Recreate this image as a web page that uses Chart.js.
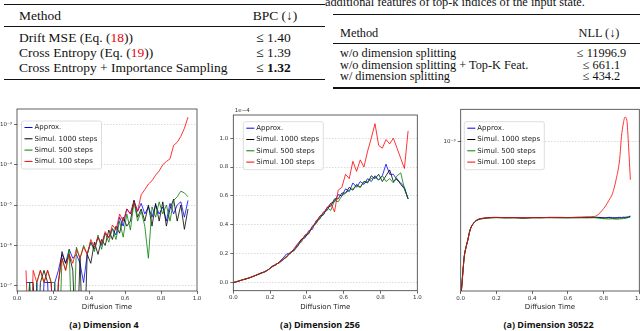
<!DOCTYPE html>
<html>
<head>
<meta charset="utf-8">
<script src="https://cdn.jsdelivr.net/npm/chart.js@4.4.1/dist/chart.umd.min.js"></script>
<style>
  body { margin: 0; background: #fff; }
  #page { position: relative; width: 640px; height: 331px; overflow: hidden; background: #fff; }
  .rule { position: absolute; background: #111; }
  .tx { position: absolute; font-family: 'Liberation Serif', serif; white-space: nowrap; color: #111; line-height: 14px; }
  .t1 { font-size: 13.5px; }
  .t2 { font-size: 12.3px; }
  .c { text-align: center; width: 90px; }
  .ref { color: #e8000b; }
  .plot { position: absolute; overflow: hidden; }
  .cap { position: absolute; width: 200px; text-align: center; font: bold 9px 'Open Sans', sans-serif; line-height: 12px; color: #111; }
</style>
</head>
<body>
<div id="page">
  <!-- left table -->
  <div class="rule" style="left:4px;top:4px;width:321px;height:1.3px"></div>
  <div class="tx t1" style="left:19px;top:9px">Method</div>
  <div class="tx t1 c" style="left:230px;top:9px">BPC (↓)</div>
  <div class="rule" style="left:4px;top:25.7px;width:321px;height:0.7px"></div>
  <div class="tx t1" style="left:19px;top:30.7px">Drift MSE (Eq. (<span class="ref">18</span>))</div>
  <div class="tx t1" style="left:19px;top:45.7px">Cross Entropy (Eq. (<span class="ref">19</span>))</div>
  <div class="tx t1" style="left:19px;top:61.3px">Cross Entropy + Importance Sampling</div>
  <div class="tx t1 c" style="left:228.5px;top:30.7px">≤ 1.40</div>
  <div class="tx t1 c" style="left:228.5px;top:45.7px">≤ 1.39</div>
  <div class="tx t1 c" style="left:228.5px;top:61.3px">≤ <b>1.32</b></div>
  <div class="rule" style="left:4px;top:78.5px;width:321px;height:1.3px"></div>

  <!-- right table -->
  <div class="tx t2" style="left:325px;top:-5.5px">additional features of top-k indices of the input state.</div>
  <div class="rule" style="left:333px;top:13.5px;width:310px;height:1.3px"></div>
  <div class="tx t2" style="left:340px;top:26.3px">Method</div>
  <div class="tx t2 c" style="left:554px;top:26.3px">NLL (↓)</div>
  <div class="rule" style="left:333px;top:42.7px;width:310px;height:0.7px"></div>
  <div class="tx t2" style="left:340px;top:46.3px">w/o dimension splitting</div>
  <div class="tx t2" style="left:340px;top:58px">w/o dimension splitting + Top-K Feat.</div>
  <div class="tx t2" style="left:340px;top:69.3px">w/ dimension splitting</div>
  <div class="tx t2 c" style="left:556.5px;top:46.3px">≤ 11996.9</div>
  <div class="tx t2 c" style="left:556.5px;top:58px">≤ 661.1</div>
  <div class="tx t2 c" style="left:556.5px;top:69.3px">≤ 434.2</div>
  <div class="rule" style="left:333px;top:87.3px;width:310px;height:1.3px"></div>

  <!-- plots -->
  <div class="plot" style="left:0;top:100px;width:205px;height:215px"><canvas id="dim4" width="205" height="215"></canvas></div>
  <div class="plot" style="left:210px;top:100px;width:220px;height:215px"><canvas id="dim256" width="220" height="215"></canvas></div>
  <div class="plot" style="left:430px;top:100px;width:210px;height:215px"><canvas id="dim30522" width="230" height="215"></canvas></div>

  <div class="cap" style="left:4px;top:319px">(a) Dimension 4</div>
  <div class="cap" style="left:220px;top:319px">(a) Dimension 256</div>
  <div class="cap" style="left:448.5px;top:319px">(a) Dimension 30522</div>
</div>

<script>
// === SHARED ===
const seriesLabels = ['Approx.', 'Simul. 1000 steps', 'Simul. 500 steps', 'Simul. 100 steps'];
const seriesColors = ['#0000ff', '#000000', '#008000', '#ff0000'];
const xTickValues = [0, 0.2, 0.4, 0.6, 0.8, 1.0];

// === DIMENSION 4 (log scale, 0 = below the axis) ===
const dim4Time = [0.05,0.07,0.09,0.11,0.13,0.15,0.17,0.19,0.21,0.23,0.25,0.27,0.29,0.31,0.33,0.35,0.37,0.39,0.41,0.43,0.45,0.47,0.49,0.51,0.53,0.55,0.57,0.59,0.61,0.63,0.65,0.67,0.69,0.71,0.73,0.75,0.77,0.79,0.81,0.83,0.85,0.87,0.89,0.91,0.93,0.95];
const dim4Approx = [1.2e-7,1.2e-7,0,1.2e-7,0,1.2e-7,1.2e-7,0,1.2e-7,2.4e-7, 6e-7,3.6e-7,8e-7,4.8e-7,6e-7,3.6e-7,1.2e-7,6e-7,1.2e-6,8e-7, 1.6e-6,1e-6,2e-6,1.6e-6,2.6e-6,1.8e-6,5e-6,3e-6,8e-6,6e-6, 1.3e-5,7e-6,1.1e-5,6e-6,9e-6,5e-6,1e-5,6e-6,9e-6,4e-6, 1.1e-5,6e-6,1e-5,1.2e-5,5e-6,1.3e-5];
const dim4Sim1000 = [0,1.2e-7,1.2e-7,0,1.2e-7,2.4e-7,1.2e-7,1.2e-7,0,1.2e-7, 7e-7,3.6e-7,6e-7,2.4e-7,0,4.8e-7,0,6e-7,3.6e-7,1.2e-6, 6e-7,1.4e-6,1e-6,2.4e-6,1.4e-6,3e-6,2e-6,5e-6,3e-6,4e-6, 1.3e-5,5e-6,8e-6,4e-6,1e-5,3e-6,1.1e-5,4e-6,1.2e-5,3e-6, 8e-6,1.4e-5,4e-6,1e-5,2.5e-6,8e-6];
const dim4Sim500 = [0,1.2e-7,0,1.2e-7,2.4e-7,1.2e-7,2.4e-7,1.2e-7,1.2e-7,0, 4.8e-7,2.4e-7,8e-7,0,9e-7,4.8e-7,1e-6,6e-7,1.2e-6,7e-7, 1.8e-6,8e-7,2e-6,1.2e-6,2.6e-6,1.4e-6,4e-6,1.6e-6,6e-6,2.4e-6, 1.2e-5,4e-6,7e-6,3e-6,4.8e-7,9e-6,5e-6,1.2e-5,6e-6,1e-5, 4e-6,1.3e-5,1.6e-5,2.2e-5,2e-5,1.6e-5];
const dim4Sim100 = [2.4e-7,0,2.4e-7,1.2e-7,2.4e-7,1.2e-7,2.4e-7,1.2e-7,0,1.2e-7, 4.8e-7,2.4e-7,6e-7,3.6e-7,8e-7,4.8e-7,9e-7,6e-7,1.4e-6,9e-7, 1.6e-6,1.1e-6,2.2e-6,1.5e-6,3.2e-6,2.4e-6,6e-6,4e-6,8e-6,6e-6, 1.2e-5,7e-6,1.8e-5,2.4e-5,3.3e-5,4e-5,5.5e-5,7e-5,1e-4,1.2e-4, 1.4e-4,3e-4,3.6e-4,5e-4,8e-4,1.5e-3];
const dim4YTicks = [1e-7, 1e-6, 1e-5, 1e-4, 1e-3];

// === DIMENSION 256 (values in units of 1e-4) ===
const dim256Time = [0,0.01,0.03,0.05,0.07,0.09,0.11,0.13,0.15,0.17,0.19,0.21,0.23,0.25,0.27,0.29,0.31,0.33,0.35,0.37,0.39,0.41,0.43,0.45,0.47,0.49,0.51,0.53,0.55,0.57,0.59,0.61,0.63,0.65,0.67,0.69,0.71,0.73,0.75,0.77,0.79,0.81,0.83,0.85,0.87,0.89,0.91,0.93,0.95];
const dim256Approx = [0,.005,.012,.021,.026,.036,.044,.057,.064,.078, .088,.115,.12,.145,.17,.2,.2,.235,.27,.3, .31,.36,.37,.43,.44,.49,.5,.55,.56,.61, .6,.65,.63,.69,.66,.7,.68,.72,.7,.74, .71,.74,.82,.75,.75,.71,.69,.66,.58];
const dim256Sim1000 = [0,.005,.011,.02,.028,.034,.046,.054,.067,.074, .091,.108,.128,.138,.158,.185,.21,.225,.25,.3, .32,.34,.39,.41,.46,.47,.52,.53,.58,.58, .62,.62,.66,.64,.68,.66,.7,.69,.74,.72, .75,.7,.74,.78,.7,.72,.68,.65,.58];
const dim256Sim500 = [0,.005,.013,.019,.027,.036,.045,.055,.067,.073, .09,.112,.123,.142,.16,.175,.21,.22,.265,.28, .33,.34,.39,.41,.45,.47,.52,.5,.57,.56, .6,.62,.64,.65,.67,.66,.7,.7,.72,.73, .71,.74,.7,.72,.69,.74,.76,.65,.58];
const dim256Sim100 = [0,.005,.012,.02,.027,.035,.045,.056,.067,.076, .09,.11,.127,.138,.162,.18,.208,.228,.262,.29, .33,.345,.39,.42,.46,.48,.52,.55,.49,.64, .66,.75,.72,.84,.77,.85,.8,.91,1.0,1.1, .95,.93,.99,.96,1.0,.93,.86,.79,1.05];
const dim256YTicks = [0, 0.2, 0.4, 0.6, 0.8, 1.0];

// === DIMENSION 30522 (log scale) ===
const dim30522Time = [0,0.01,0.02,0.03,0.04,0.05,0.06,0.07,0.08,0.1,0.12, 0.15,0.2,0.25,0.3,0.35,0.4,0.45,0.5,0.55,0.6,0.65,0.7,0.75, 0.77,0.79,0.81,0.83,0.85,0.87,0.89,0.9,0.91,0.92,0.93,0.94,0.95];
const dim30522Approx = [1.9e-4,2.4e-4,3.0e-4,3.3e-4,3.57e-4,3.89e-4,4.11e-4,4.23e-4,4.33e-4,4.43e-4,4.47e-4, 4.50e-4,4.52e-4,4.50e-4,4.51e-4,4.49e-4,4.51e-4,4.50e-4,4.52e-4,4.51e-4,4.50e-4,4.52e-4,4.51e-4,4.52e-4, 4.52e-4,4.51e-4,4.50e-4,4.52e-4,4.51e-4,4.50e-4,4.52e-4,4.51e-4,4.53e-4,4.52e-4,4.54e-4,4.55e-4,4.58e-4];
const dim30522Sim1000 = [1.9e-4,2.45e-4,3.02e-4,3.32e-4,3.58e-4,3.9e-4,4.1e-4,4.22e-4,4.32e-4,4.42e-4,4.46e-4, 4.49e-4,4.51e-4,4.50e-4,4.50e-4,4.48e-4,4.50e-4,4.51e-4,4.50e-4,4.50e-4,4.51e-4,4.50e-4,4.52e-4,4.51e-4, 4.51e-4,4.49e-4,4.48e-4,4.50e-4,4.47e-4,4.48e-4,4.49e-4,4.48e-4,4.50e-4,4.49e-4,4.51e-4,4.52e-4,4.56e-4];
const dim30522Sim500 = [1.9e-4,2.42e-4,2.98e-4,3.3e-4,3.55e-4,3.88e-4,4.1e-4,4.22e-4,4.31e-4,4.41e-4,4.45e-4, 4.48e-4,4.50e-4,4.49e-4,4.50e-4,4.49e-4,4.50e-4,4.49e-4,4.51e-4,4.50e-4,4.49e-4,4.50e-4,4.49e-4,4.50e-4, 4.48e-4,4.46e-4,4.45e-4,4.44e-4,4.45e-4,4.43e-4,4.44e-4,4.45e-4,4.46e-4,4.47e-4,4.49e-4,4.51e-4,4.54e-4];
const dim30522Sim100 = [1.9e-4,2.4e-4,3.0e-4,3.31e-4,3.57e-4,3.89e-4,4.11e-4,4.23e-4,4.33e-4,4.43e-4,4.47e-4, 4.50e-4,4.51e-4,4.51e-4,4.50e-4,4.51e-4,4.50e-4,4.51e-4,4.51e-4,4.52e-4,4.51e-4,4.52e-4,4.54e-4,4.56e-4, 4.65e-4,4.84e-4,5.07e-4,5.4e-4,5.8e-4,6.7e-4,8.3e-4,1.05e-3,1.2e-3,1.29e-3,1.25e-3,9.5e-4,6.7e-4];
const dim30522YTicks = [1e-3];

// === HELPERS ===
const SUP = { '-': '⁻', '0': '⁰', '1': '¹', '2': '²', '3': '³', '4': '⁴', '5': '⁵', '6': '⁶', '7': '⁷', '8': '⁸', '9': '⁹' };
const powerLabel = v => '10' + String(Math.round(Math.log10(v))).split('').map(c => SUP[c]).join('');

Chart.defaults.font.family = "'DejaVu Sans', sans-serif";
Chart.defaults.color = '#333';

// axes box on all four sides, like matplotlib
const framePlugin = {
  id: 'frame',
  afterDatasetsDraw(chart) {
    const { ctx, chartArea: a } = chart;
    ctx.save();
    ctx.strokeStyle = '#3a3a3a';
    ctx.lineWidth = 0.8;
    ctx.strokeRect(a.left, a.top, a.right - a.left, a.bottom - a.top);
    ctx.restore();
  }
};

// legend box inside the plot area + optional offset text (1e-4)
const boxLegend = {
  id: 'boxLegend',
  afterDatasetsDraw(chart, args, opts) {
    const { ctx, chartArea: a } = chart;
    const x = a.left + opts.dx, y = a.top + opts.dy;
    ctx.save();
    ctx.beginPath();
    ctx.roundRect(x, y, 80, 48, 2);
    ctx.fillStyle = 'rgba(255,255,255,0.85)';
    ctx.fill();
    ctx.strokeStyle = '#d4d4d4';
    ctx.lineWidth = 0.8;
    ctx.stroke();
    ctx.font = "7px 'DejaVu Sans'";
    ctx.textBaseline = 'middle';
    chart.data.datasets.forEach((ds, i) => {
      const cy = y + 6.5 + i * 11.3;
      ctx.strokeStyle = ds.borderColor;
      ctx.lineWidth = 1;
      ctx.beginPath();
      ctx.moveTo(x + 3, cy);
      ctx.lineTo(x + 11, cy);
      ctx.stroke();
      ctx.fillStyle = '#222';
      ctx.fillText(ds.label, x + 13, cy);
    });
    if (opts.offsetText) {
      ctx.font = "5.5px 'DejaVu Sans'";
      ctx.textBaseline = 'bottom';
      ctx.fillStyle = '#333';
      ctx.fillText(opts.offsetText, a.left + 1.5, a.top - 1.5);
    }
    ctx.restore();
  }
};

function drawPlot(id, cfg) {
  const datasets = seriesLabels.map((label, i) => ({
    label,
    data: cfg.time.map((t, j) => {
      const v = cfg.series[i][j];
      return { x: t, y: (cfg.floor && v <= 0) ? cfg.floor : v };
    }),
    borderColor: seriesColors[i],
    borderWidth: 0.8,
    pointRadius: 0,
    tension: 0,
    cubicInterpolationMode: cfg.smooth ? 'monotone' : 'default',
    order: seriesLabels.length - i
  }));

  return new Chart(document.getElementById(id), {
    type: 'line',
    data: { datasets },
    plugins: [framePlugin, boxLegend],
    options: {
      responsive: false, animation: false, devicePixelRatio: 1, events: [],
      layout: { padding: { left: 0, top: cfg.padTop, right: cfg.padRight, bottom: 0 } },
      plugins: {
        legend: { display: false },
        tooltip: { enabled: false },
        boxLegend: { dx: cfg.legend[0], dy: cfg.legend[1], offsetText: cfg.offsetText }
      },
      scales: {
        x: {
          type: 'linear', min: 0, max: 1,
          afterBuildTicks: s => { s.ticks = xTickValues.map(v => ({ value: v })); },
          afterFit: s => { s.height = cfg.xAxisHeight; },
          ticks: { font: { size: 5.5 }, color: '#333', padding: 1, autoSkip: false, maxRotation: 0, callback: v => v.toFixed(1) },
          grid: { drawOnChartArea: false, tickLength: 3, tickColor: '#444', lineWidth: 0.8 },
          border: { display: false },
          title: { display: true, text: 'Diffusion Time', color: '#222', font: { size: 7 }, padding: { top: 0, bottom: 4 } }
        },
        y: {
          type: cfg.yType, min: cfg.yMin, max: cfg.yMax,
          afterBuildTicks: s => { s.ticks = cfg.yTicks.map(v => ({ value: v })); },
          afterFit: s => { s.width = cfg.yAxisWidth; },
          ticks: { font: { size: 5.5 }, color: '#333', padding: 2, autoSkip: false, callback: cfg.yFormat },
          grid: { color: '#cccccc', lineWidth: 0.7, tickLength: 3, tickColor: '#444', tickWidth: 0.8 },
          border: { display: false, dash: [1.5, 1.5] }
        }
      }
    }
  });
}

// === CHARTS ===
drawPlot('dim4', {
  time: dim4Time,
  series: [dim4Approx, dim4Sim1000, dim4Sim500, dim4Sim100],
  floor: 1e-9,
  yType: 'logarithmic', yMin: 7.4e-8, yMax: 2.4e-3, yTicks: dim4YTicks, yFormat: powerLabel,
  yAxisWidth: 17, xAxisHeight: 24, padTop: 9, padRight: 8,
  legend: [4.5, 12]
});

drawPlot('dim256', {
  time: dim256Time,
  series: [dim256Approx, dim256Sim1000, dim256Sim500, dim256Sim100],
  yType: 'linear', yMin: -0.055, yMax: 1.16, yTicks: dim256YTicks, yFormat: v => v.toFixed(1),
  yAxisWidth: 23.3, xAxisHeight: 24.3, padTop: 15, padRight: 12.7,
  legend: [10, 6.7], offsetText: '1e−4'
});

drawPlot('dim30522', {
  time: dim30522Time,
  series: [dim30522Approx, dim30522Sim1000, dim30522Sim500, dim30522Sim100],
  smooth: true,
  yType: 'logarithmic', yMin: 2.09e-4, yMax: 1.4e-3, yTicks: dim30522YTicks, yFormat: powerLabel,
  yAxisWidth: 30.7, xAxisHeight: 24, padTop: 9.3, padRight: 20.7,
  legend: [3.6, 12.4]
});
</script>
</body>
</html>
